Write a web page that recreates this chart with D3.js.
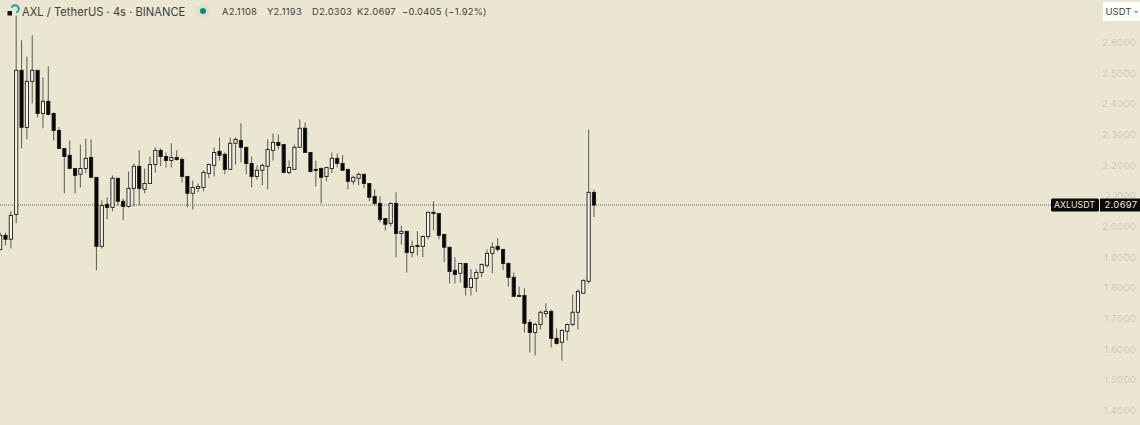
<!DOCTYPE html>
<html>
<head>
<meta charset="utf-8">
<script src="https://cdn.jsdelivr.net/npm/d3@7"></script>
<style>
  html, body { margin: 0; padding: 0; background: #ebe6d2; overflow: hidden; }
  svg { display: block; }
</style>
</head>
<body>
<svg id="chart"></svg>
<script>
var titleText = "AXL / TetherUS · 4s · BINANCE"
var ohlcLabels = ["A2.1108", "Y2.1193", "D2.0303", "K2.0697", "−0.0405 (−1.92%)"]
var currency = "USDT"
var symbolLabel = "AXLUSDT"
var lastPrice = 2.0697
var priceTicks = [2.6, 2.5, 2.4, 2.3, 2.2, 2.1, 2.0, 1.9, 1.8, 1.7, 1.6, 1.5, 1.4]

var opens = [1.925,1.971,1.958,2.039,2.509,2.323,2.473,2.509,2.368,2.408,2.368,2.313,2.254,2.232,2.189,2.170,2.189,2.225,2.160,1.935,
  2.072,2.062,2.157,2.082,2.065,2.124,2.196,2.121,2.140,2.202,2.248,2.228,2.215,2.225,2.218,2.163,2.108,2.124,2.127,2.173,
  2.199,2.245,2.235,2.186,2.271,2.280,2.258,2.205,2.163,2.183,2.196,2.248,2.274,2.267,2.176,2.186,2.258,2.320,2.241,2.186,
  2.189,2.163,2.189,2.222,2.205,2.186,2.147,2.157,2.170,2.140,2.098,2.075,2.026,2.010,2.075,1.977,1.984,1.915,1.938,1.935,
  1.967,2.046,2.042,1.974,1.932,1.857,1.847,1.879,1.801,1.830,1.850,1.873,1.912,1.935,1.925,1.879,1.834,1.775,1.775,1.687,
  1.654,1.680,1.716,1.723,1.635,1.622,1.658,1.680,1.720,1.782,1.821,2.1108]
var highs = [1.980,1.980,2.049,2.688,2.607,2.554,2.623,2.509,2.486,2.522,2.372,2.323,2.254,2.280,2.189,2.267,2.287,2.284,2.160,2.085,
  2.095,2.166,2.157,2.091,2.179,2.205,2.248,2.189,2.228,2.258,2.254,2.241,2.271,2.248,2.225,2.163,2.150,2.140,2.183,2.205,
  2.258,2.290,2.241,2.290,2.290,2.336,2.258,2.228,2.199,2.205,2.284,2.303,2.300,2.267,2.215,2.267,2.349,2.339,2.241,2.215,
  2.192,2.192,2.241,2.238,2.232,2.186,2.166,2.176,2.170,2.140,2.121,2.098,2.026,2.078,2.111,2.003,1.984,1.954,1.984,1.971,
  2.046,2.082,2.042,1.974,1.932,1.899,1.879,1.879,1.860,1.860,1.879,1.925,1.948,1.961,1.925,1.883,1.850,1.804,1.798,1.697,
  1.687,1.726,1.749,1.729,1.667,1.664,1.684,1.778,1.795,1.827,2.316,2.1193]
var lows = [1.922,1.938,1.928,2.010,2.254,2.284,2.401,2.355,2.320,2.362,2.280,2.254,2.108,2.189,2.108,2.127,2.173,2.160,1.857,1.928,
  2.023,2.049,2.068,2.020,2.062,2.065,2.068,2.108,2.140,2.176,2.196,2.192,2.192,2.215,2.143,2.062,2.055,2.111,2.114,2.157,
  2.163,2.215,2.170,2.186,2.202,2.209,2.170,2.127,2.153,2.134,2.121,2.215,2.251,2.173,2.170,2.186,2.258,2.241,2.176,2.130,
  2.075,2.147,2.173,2.192,2.183,2.121,2.137,2.134,2.124,2.082,2.068,2.013,1.987,2.000,1.899,1.941,1.850,1.899,1.905,1.899,
  1.958,1.987,1.958,1.883,1.814,1.814,1.817,1.775,1.775,1.785,1.834,1.866,1.847,1.918,1.857,1.804,1.772,1.772,1.654,1.589,
  1.579,1.664,1.703,1.605,1.615,1.563,1.628,1.674,1.664,1.782,1.814,2.0303]
var closes = [1.971,1.958,2.036,2.509,2.323,2.473,2.509,2.368,2.408,2.365,2.313,2.254,2.228,2.189,2.166,2.189,2.222,2.160,1.935,2.068,
  2.062,2.157,2.082,2.065,2.124,2.196,2.124,2.140,2.202,2.248,2.228,2.215,2.225,2.218,2.163,2.108,2.127,2.130,2.176,2.202,
  2.241,2.232,2.186,2.271,2.284,2.258,2.205,2.163,2.183,2.199,2.251,2.274,2.264,2.176,2.192,2.258,2.320,2.241,2.179,2.183,
  2.160,2.192,2.222,2.205,2.183,2.147,2.160,2.170,2.140,2.095,2.075,2.023,2.007,2.075,1.977,1.984,1.915,1.935,1.935,1.967,
  2.046,2.042,1.971,1.932,1.853,1.843,1.879,1.801,1.830,1.850,1.876,1.912,1.932,1.925,1.879,1.834,1.772,1.772,1.684,1.654,
  1.680,1.720,1.723,1.635,1.618,1.661,1.680,1.720,1.788,1.824,2.111,2.0697]

var dimensions = {
  width: 1140,
  height: 425,
  barStep: 5.35,
  bodyWidth: 3.2,
  lastBarX: 594,
  axisX: 1136
}

var svg = d3.select("#chart")
  .attr("width", dimensions.width)
  .attr("height", dimensions.height)
  .style("font-family", "Inter, Roboto, sans-serif")

var xScale = d3.scaleLinear()
  .domain([0, opens.length - 1])
  .range([dimensions.lastBarX - dimensions.barStep * (opens.length - 1), dimensions.lastBarX])

var yScale = d3.scaleLinear()
  .domain([2.6, 1.4])
  .range([42.4, 410.4])

// price axis labels, right aligned, very faint
var axis = svg.append("g")
  .attr("transform", "translate(" + dimensions.axisX + ",0)")
  .call(d3.axisLeft(yScale).tickValues(priceTicks).tickSize(0).tickFormat(d3.format(".4f")))
axis.select(".domain").remove()
axis.selectAll("text")
  .attr("x", 0)
  .style("font-size", "9.5px")
  .style("font-family", "Inter, Roboto, sans-serif")
  .style("letter-spacing", "0.3px")
  .attr("fill", "#d0cbba")

// last price line
svg.append("line")
  .attr("x1", 0)
  .attr("x2", 1052)
  .attr("y1", yScale(lastPrice))
  .attr("y2", yScale(lastPrice))
  .attr("stroke", "#4d4a40")
  .attr("stroke-width", 0.8)
  .attr("stroke-dasharray", "1 1")

var index = d3.range(opens.length)
var candles = svg.append("g")

// wicks
candles.selectAll(".wick")
  .data(index)
  .enter()
  .append("line")
  .attr("class", "wick")
  .attr("x1", function (i) { return xScale(i) })
  .attr("x2", function (i) { return xScale(i) })
  .attr("y1", function (i) { return yScale(highs[i]) })
  .attr("y2", function (i) { return yScale(lows[i]) })
  .attr("stroke", "#6a675c")
  .attr("stroke-width", 1.1)

// bodies
candles.selectAll(".body")
  .data(index)
  .enter()
  .append("rect")
  .attr("class", "body")
  .attr("x", function (i) { return xScale(i) - dimensions.bodyWidth / 2 })
  .attr("width", dimensions.bodyWidth)
  .attr("y", function (i) { return yScale(Math.max(opens[i], closes[i])) })
  .attr("height", function (i) { return Math.max(1, Math.abs(yScale(opens[i]) - yScale(closes[i]))) })
  .attr("fill", function (i) { return closes[i] >= opens[i] ? "#f6f3e8" : "#050505" })
  .attr("stroke", "#1c1c1a")
  .attr("stroke-width", 0.9)

// header
var logo = svg.append("g")
logo.append("path")
  .attr("d", d3.arc()({ innerRadius: 2.8, outerRadius: 4.8, startAngle: -1.2, endAngle: 2.8 }))
  .attr("transform", "translate(15,9)")
  .attr("fill", "#2a9d9f")
logo.append("rect")
  .attr("x", 7.5).attr("y", 11).attr("width", 4.5).attr("height", 4.5)
  .attr("fill", "#111")

svg.append("text")
  .attr("x", 22).attr("y", 15.5)
  .attr("fill", "#3f3e39")
  .style("font-size", "11.2px")
  .text(titleText)

svg.append("circle").attr("cx", 203).attr("cy", 11).attr("r", 7).attr("fill", "#dde2ce")
svg.append("circle").attr("cx", 203).attr("cy", 11).attr("r", 3).attr("fill", "#13896f")

// each OHLC value starts at its own place
var ohlcX = d3.scalePoint().domain(d3.range(5)).range([222, 402])
svg.selectAll(".ohlc")
  .data(ohlcLabels)
  .enter()
  .append("text")
  .attr("class", "ohlc")
  .attr("x", function (d, i) { return ohlcX(i) })
  .attr("y", 14.5)
  .attr("fill", "#3f3e39")
  .style("font-size", "9.4px")
  .style("letter-spacing", "0.25px")
  .text(function (d) { return d })

// currency button
svg.append("rect")
  .attr("x", 1103).attr("y", 2).attr("width", 37).attr("height", 19)
  .attr("fill", "#ffffff")
svg.append("text")
  .attr("x", 1105.5).attr("y", 15)
  .attr("fill", "#3f3e39")
  .style("font-size", "9.5px")
  .text(currency)
svg.append("path")
  .attr("d", "M1134.5 11 l1.5 1.5 l1.5 -1.5")
  .attr("fill", "none")
  .attr("stroke", "#3f3e39")

// price tags
svg.append("rect")
  .attr("x", 1051).attr("y", yScale(lastPrice) - 6.5).attr("width", 48).attr("height", 13).attr("rx", 1.5)
  .attr("fill", "#0a0a0a")
svg.append("rect")
  .attr("x", 1100).attr("y", yScale(lastPrice) - 6.5).attr("width", 40).attr("height", 13)
  .attr("fill", "#0a0a0a")
svg.append("text")
  .attr("x", 1074.5).attr("y", yScale(lastPrice) + 3.3)
  .attr("text-anchor", "middle")
  .attr("fill", "#ebe6d2")
  .style("font-size", "8.8px")
  .text(symbolLabel)
svg.append("text")
  .attr("x", 1121).attr("y", yScale(lastPrice) + 3.3)
  .attr("text-anchor", "middle")
  .attr("fill", "#ebe6d2")
  .style("font-size", "9.5px")
  .style("letter-spacing", "0.3px")
  .text(d3.format(".4f")(lastPrice))
</script>
</body>
</html>
